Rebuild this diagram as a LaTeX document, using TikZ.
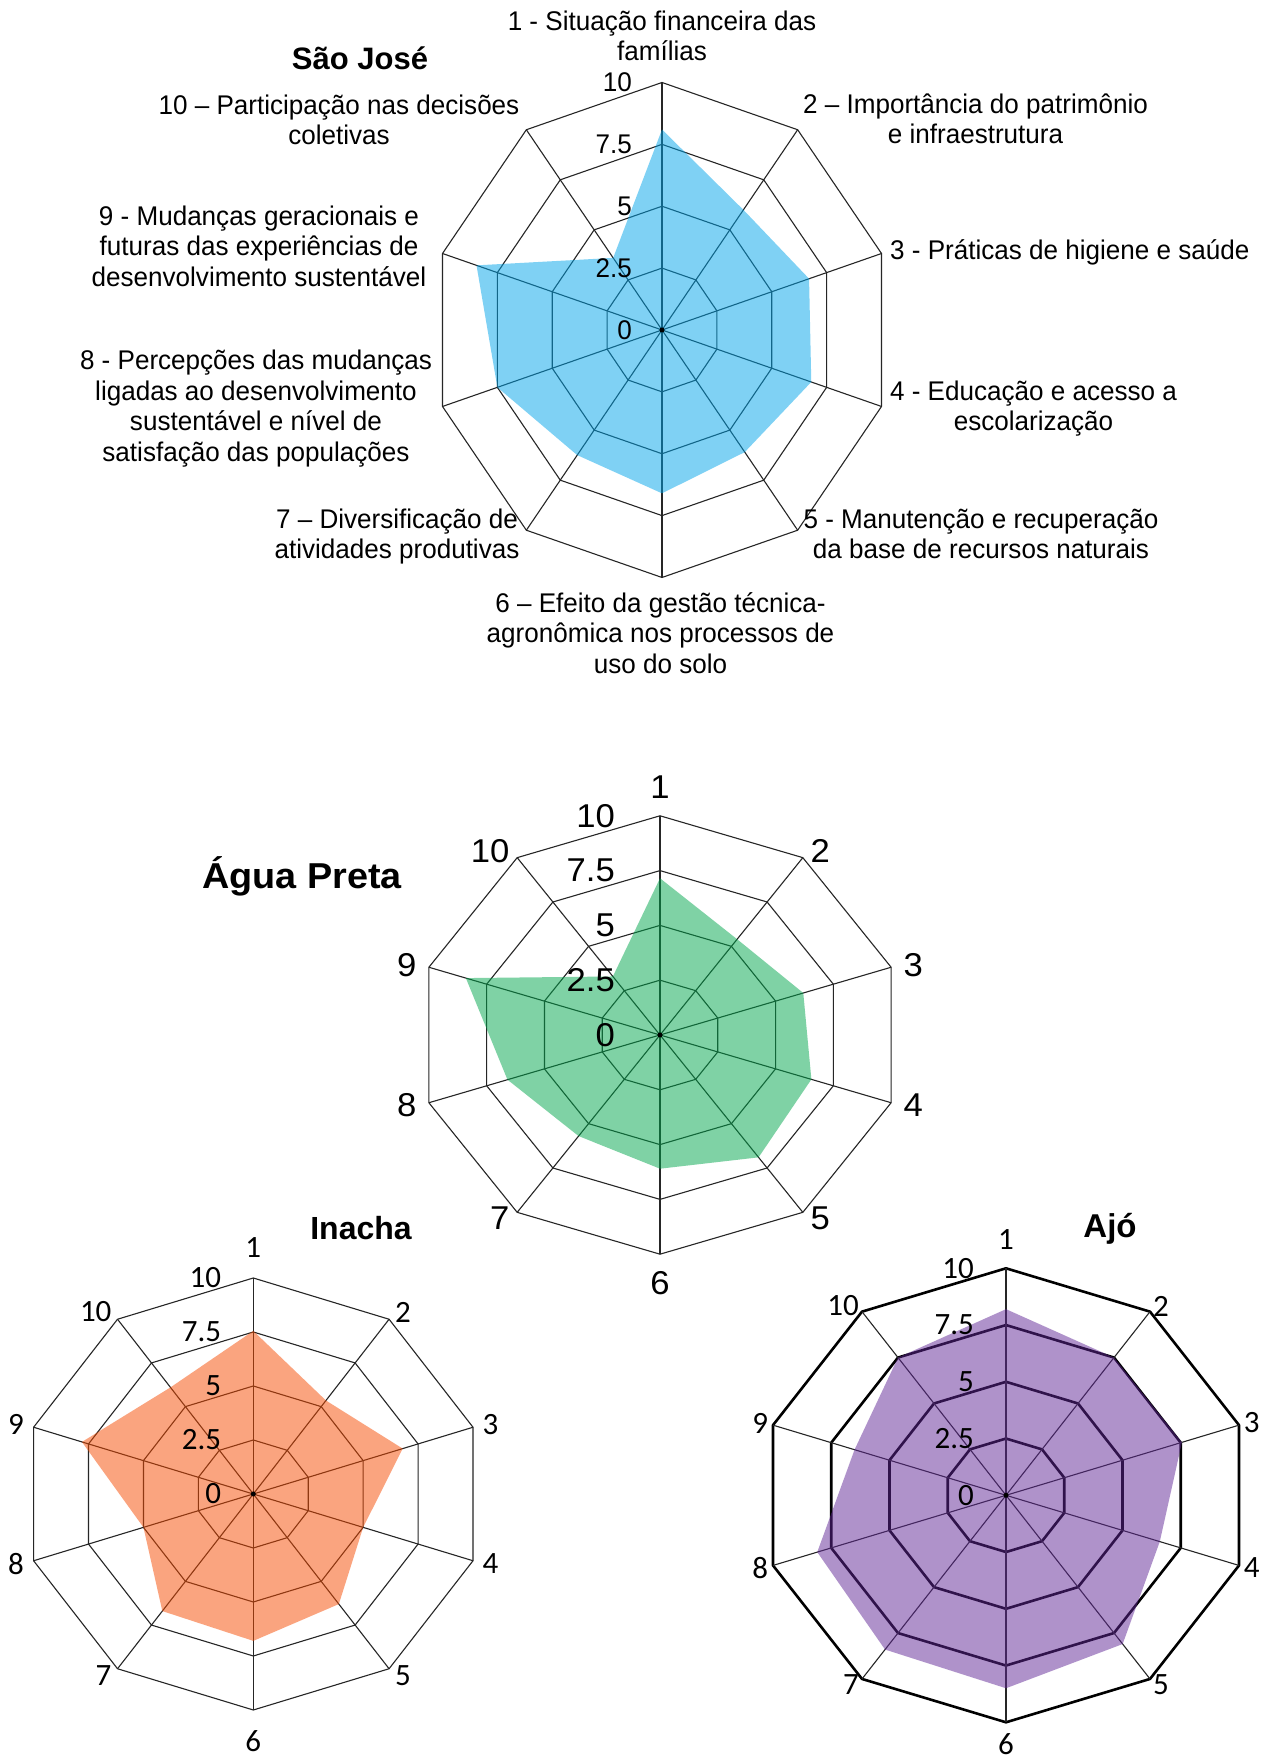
\documentclass[tikz,border=0pt]{standalone}
\usepackage{fontspec}
\setmainfont{Liberation Sans}
\newfontfamily\sjfont{Liberation Sans}[FakeStretch=0.965]
\newfontfamily\apfont{Liberation Sans}[FakeStretch=1.05]
\newfontfamily\calfont{Carlito}
\definecolor{sjblue}{RGB}{0,165,235}
\definecolor{apgreen}{RGB}{0,167,77}
\definecolor{inorange}{RGB}{247,75,0}
\definecolor{ajpurple}{RGB}{97,39,151}

\begin{document}
\begin{tikzpicture}[x=1pt,y=1pt]
\tikzstyle{webline}=[draw=black!85, line width=1.1pt]
\tikzstyle{thickweb}=[draw=black, line width=2.6pt, line join=round]
\tikzstyle{sjtext}=[font=\sjfont\fontsize{27}{30.5}\selectfont, align=center, inner sep=0pt, anchor=north, execute at begin node=\strut]
\tikzstyle{sjscale}=[font=\sjfont\fontsize{27}{30.5}\selectfont, inner sep=0pt, anchor=east]
\tikzstyle{aplab}=[font=\apfont\fontsize{33}{36}\selectfont, inner sep=0pt]
\tikzstyle{callab}=[font=\calfont\fontsize{31}{34}\selectfont, inner sep=0pt]
\tikzstyle{charttitle}=[font=\bfseries\fontsize{32}{34}\selectfont, inner sep=0pt, anchor=base]

\fill[white] (0,0) rectangle (1272,1762);
\useasboundingbox (0,0) rectangle (1272,1762);

% Sao Jose
\begin{scope}[shift={(662pt,1432pt)}, x=23.08pt, y=24.75pt]
  \foreach \r in {2.5,5,7.5,10}
    \draw[webline] (90:\r) \foreach \k in {1,...,9} {-- (90-36*\k:\r)} -- cycle;
  \foreach \k in {0,...,9} \draw[webline] (0,0) -- (90-36*\k:10);
  \foreach \v [count=\k] in {8.1,6.0,6.7,6.8,6.1,6.6,6.25,7.5,8.45,3.6}
    \coordinate (sj-d\k) at (126-36*\k:\v);
  \fill[sjblue, fill opacity=.5] (sj-d1) \foreach \k in {2,...,10} {-- (sj-d\k)} -- cycle;
  \fill (0,0) circle (2.5pt);
  \foreach \r [count=\i] in {0,2.5,5,7.5,10}
    \node[sjscale] (sj-s\i) at ([xshift=-30pt]0,\r) {\r};
\end{scope}
\node[charttitle, font=\bfseries\fontsize{31}{34}\selectfont] (sj-title) at (360,1692) {São José};
\node[sjtext] (sj-l1) at (662,1751.4) {1 - Situação financeira das\\famílias};
\node[sjtext] (sj-l2) at (975.5,1668.4) {2 – Importância do patrimônio\\e infraestrutura};
\node[sjtext, anchor=north west] (sj-l3) at (890,1524) {3 - Práticas de higiene e saúde};
\node[sjtext] (sj-l4) at (1033.5,1381.7) {4 - Educação e acesso a\\escolarização};
\node[sjtext] (sj-l5) at (981,1253.4) {5 - Manutenção e recuperação\\da base de recursos naturais};
\node[sjtext] (sj-l6) at (660.5,1170) {6 – Efeito da gestão técnica-\\agronômica nos processos de\\uso do solo};
\node[sjtext] (sj-l7) at (397,1253.4) {7 – Diversificação de\\atividades produtivas};
\node[sjtext] (sj-l8) at (256,1412) {8 - Percepções das mudanças\\ligadas ao desenvolvimento\\sustentável e nível de\\satisfação das populações};
\node[sjtext] (sj-l9) at (259,1556.6) {9 - Mudanças geracionais e\\futuras das experiências de\\desenvolvimento sustentável};
\node[sjtext] (sj-l10) at (339,1667.4) {10 – Participação nas decisões\\coletivas};

% Agua Preta
\begin{scope}[shift={(660pt,727pt)}, x=24.3pt, y=21.92pt]
  \foreach \r in {2.5,5,7.5,10}
    \draw[webline] (90:\r) \foreach \k in {1,...,9} {-- (90-36*\k:\r)} -- cycle;
  \foreach \k in {0,...,9} \draw[webline] (0,0) -- (90-36*\k:10);
  \foreach \v [count=\k] in {7.15,5.4,6.2,6.55,6.9,6.1,5.7,6.6,8.4,3.3}
    \coordinate (ap-d\k) at (126-36*\k:\v);
  \fill[apgreen, fill opacity=.5] (ap-d1) \foreach \k in {2,...,10} {-- (ap-d\k)} -- cycle;
  \fill (0,0) circle (2.5pt);
  \foreach \r [count=\i] in {0,2.5,5,7.5,10}
    \node[aplab, anchor=east] (ap-s\i) at ([xshift=-45pt]0,\r) {\r};
  \foreach \k/\an in {1/south,2/west,3/west,4/west,5/west,6/north,7/east,8/east,9/east,10/east}
    \node[aplab, anchor=\an, yshift={9*((\k==1)-(\k==6))}] (ap-l\k) at (126-36*\k:256pt and 227pt) {\k};
\end{scope}
\node[charttitle, anchor=center, font=\apfont\bfseries\fontsize{36}{38}\selectfont] (ap-title) at (302,885.5) {Água Preta};

% Inacha
\begin{scope}[shift={(253.3pt,268pt)}, x=23.1pt, y=21.6pt]
  \foreach \r in {2.5,5,7.5,10}
    \draw[webline] (90:\r) \foreach \k in {1,...,9} {-- (90-36*\k:\r)} -- cycle;
  \foreach \k in {0,...,9} \draw[webline] (0,0) -- (90-36*\k:10);
  \foreach \v [count=\k] in {7.55,5.35,6.8,5.0,6.3,6.8,6.7,5.0,7.8,6.1}
    \coordinate (in-d\k) at (126-36*\k:\v);
  \fill[inorange, fill opacity=.5] (in-d1) \foreach \k in {2,...,10} {-- (in-d\k)} -- cycle;
  \fill (0,0) circle (2.5pt);
  \foreach \r [count=\i] in {0,2.5,5,7.5,10}
    \node[callab, anchor=east] (in-s\i) at ([xshift=-32pt]0,\r) {\r};
  \foreach \k/\an in {1/south,2/west,3/west,4/west,5/west,6/north,7/east,8/east,9/east,10/east}
    \node[callab, anchor=\an, yshift={11*((\k==1)-(\k==6))}] (in-l\k) at (126-36*\k:241pt and 225pt) {\k};
\end{scope}
\node[charttitle] (in-title) at (361,522.6) {Inacha};

% Ajo
\begin{scope}[shift={(1006pt,266.7pt)}, x=24.5pt, y=22.7pt]
  \foreach \r in {2.5,5,7.5,10}
    \draw[thickweb] (90:\r) \foreach \k in {1,...,9} {-- (90-36*\k:\r)} -- cycle;
  \foreach \k in {0,...,9} \draw[webline] (0,0) -- (90-36*\k:10);
  \foreach \v [count=\k] in {8.2,7.5,7.55,6.6,8.1,8.5,8.4,8.1,6.5,7.5}
    \coordinate (aj-d\k) at (126-36*\k:\v);
  \fill[ajpurple, fill opacity=.5] (aj-d1) \foreach \k in {2,...,10} {-- (aj-d\k)} -- cycle;
  \fill (0,0) circle (2.5pt);
  \foreach \r [count=\i] in {0,2.5,5,7.5,10}
    \node[callab, anchor=east] (aj-s\i) at ([xshift=-32pt]0,\r) {\r};
  \foreach \k/\an in {1/south,2/west,3/west,4/west,5/west,6/north,7/east,8/east,9/east,10/east}
    \node[callab, anchor=\an, yshift={(12*(\k==1))-(4*(\k==6))}] (aj-l\k) at (126-36*\k:250pt and 234pt) {\k};
\end{scope}
\node[charttitle, font=\bfseries\fontsize{33}{35}\selectfont] (aj-title) at (1110,524.4) {Ajó};
\end{tikzpicture}
\end{document}
